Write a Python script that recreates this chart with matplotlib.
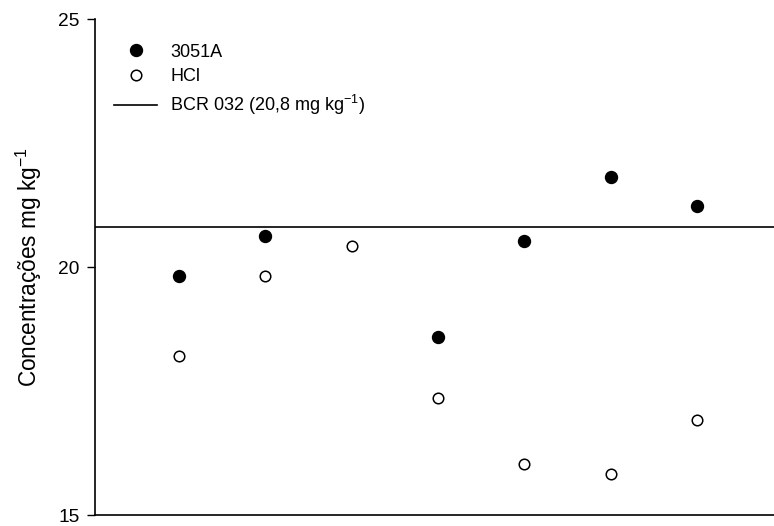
import numpy as np
import matplotlib
matplotlib.use("Agg")
import matplotlib.pyplot as plt
from matplotlib.lines import Line2D

plt.rcParams['font.family'] = ['Liberation Sans', 'DejaVu Sans']

# Sample positions and measured concentrations (mg kg-1)
samples = [1, 2, 3, 4, 5, 6, 7]
conc_3051a = [19.81, 20.62, np.nan, 18.58, 20.53, 21.82, 21.22]
conc_hcl = [18.21, 19.81, 20.42, 17.36, 16.02, 15.82, 16.92]
reference_value = 20.8
y_ticks = [15, 20, 25]

fig = plt.figure(figsize=(7.74, 5.26), dpi=100)
ax = fig.add_axes([95 / 774, 1 - 515 / 526, 1 - 95 / 774, (515 - 19) / 526])

ax.axhline(reference_value, color='black', lw=1.2, zorder=1)
ax.plot(samples, conc_3051a, 'o', ls='none', color='black', ms=8.6, zorder=3)
ax.plot(samples, conc_hcl, 'o', ls='none', mfc='white', mec='black',
        mew=1.1, ms=7.6, zorder=4)

ax.set_xlim(0.03, 7.89)
ax.set_ylim(15, 25)
ax.set_yticks(y_ticks)
ax.set_xticks([])
ax.tick_params(axis='y', direction='out', length=6, width=1, labelsize=13.8, pad=5)
for s in ('top', 'right'):
    ax.spines[s].set_visible(False)
for s in ('left', 'bottom'):
    ax.spines[s].set_linewidth(1.2)

ax.set_ylabel('Concentrações mg kg$^{\\mathregular{-1}}$', fontsize=16.3, labelpad=10)

handles = [
    Line2D([], [], marker='o', ls='none', color='black', ms=8.6),
    Line2D([], [], marker='o', ls='none', mfc='white', mec='black', mew=1.1, ms=7.6),
    Line2D([], [], color='black', lw=1.2),
]
labels = ['3051A', 'HCl', 'BCR 032 (20,8 mg kg$^{\\mathregular{-1}}$)']
ax.legend(handles, labels, loc='upper left', bbox_to_anchor=(0.028, 0.95),
          frameon=False, fontsize=13, handlelength=2.4, handletextpad=0.72,
          labelspacing=0.42, borderaxespad=0, borderpad=0)

fig.savefig('out.png', dpi=100)
